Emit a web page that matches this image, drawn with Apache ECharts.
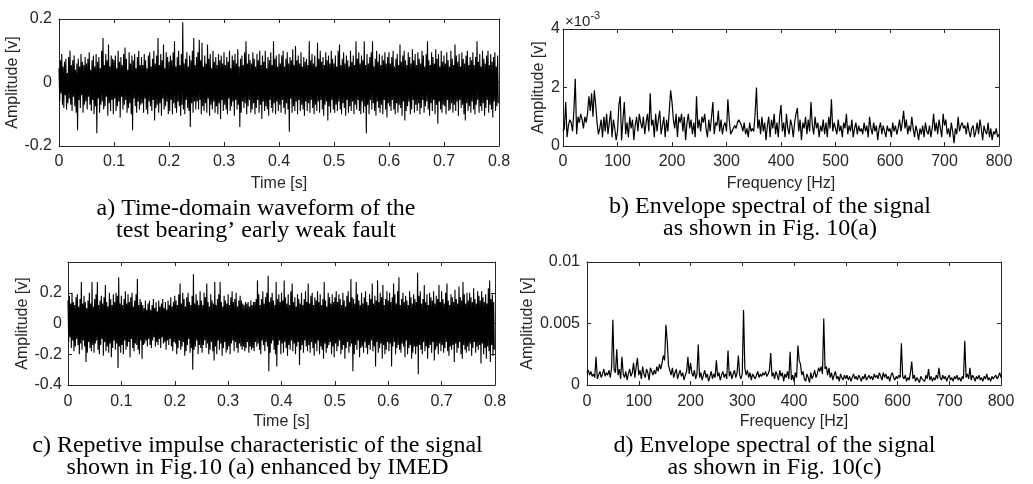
<!DOCTYPE html>
<html>
<head>
<meta charset="utf-8">
<script src="https://cdn.jsdelivr.net/npm/echarts@6/dist/echarts.min.js"></script>
<style>
html,body{margin:0;padding:0;background:#fff;}
#chart{width:1033px;height:484px;}
</style>
</head>
<body>
<div id="chart"></div>
<script>
// ---------------- DATA ----------------
// a) time-domain waveform, millivolts, one sample every 1.25 ms (0 .. 0.79875 s)
const waveA_mV = [
 45,-60,70,-35,90,-70,50,-80,65,-40,75,-85,30,-65,80,-50,100,-70,55,-90,70,-45,85,-75,40,-95,60,-150,75,-55,50,-80,90,-40,65,-95,55,-70,80,-60,
 60,-85,75,-45,95,-70,40,-90,70,-55,85,-100,50,-75,90,-160,65,-50,80,-95,45,-70,100,-60,140,-85,55,-75,90,-45,70,-105,120,-65,50,-90,85,-55,75,-100,
 70,-50,85,-90,45,-75,100,-60,65,-110,80,-45,55,-85,90,-70,110,-55,75,-95,40,-80,95,-65,60,-100,85,-150,70,-50,90,-75,45,-95,80,-60,100,-85,55,-70,
 80,-65,55,-95,90,-50,70,-85,45,-100,85,-60,95,-75,50,-90,75,-55,100,-120,60,-80,85,-70,140,-95,55,-65,90,-105,70,-50,120,-85,45,-75,95,-60,80,-100,
 65,-90,85,-55,70,-100,95,-65,130,-80,50,-95,80,-60,100,-75,55,-105,90,-70,190,-85,60,-100,75,-55,95,-80,50,-90,85,-140,70,-65,100,-95,140,-60,55,-85,
 80,-60,95,-85,135,-55,70,-100,125,-75,50,-90,85,-65,60,-95,120,-50,75,-105,90,-70,45,-85,100,-60,65,-95,80,-75,55,-100,90,-65,70,-115,85,-55,60,-90,
 95,-70,55,-85,80,-100,65,-50,100,-90,45,-75,85,-60,70,-105,90,-55,60,-85,105,-70,50,-140,75,-95,85,-60,55,-80,95,-65,130,-100,60,-75,90,-55,70,-95,
 60,-85,95,-65,75,-100,50,-80,90,-55,70,-95,100,-70,55,-115,85,-60,65,-90,100,-75,45,-85,80,-105,70,-55,95,-80,55,-95,130,-65,75,-100,85,-60,50,-90,
 90,-70,60,-95,85,-55,100,-80,50,-100,75,-65,95,-85,60,-155,80,-50,70,-95,105,-75,55,-90,115,-60,70,-100,85,-55,60,-90,95,-70,50,-85,80,-105,65,-60,
 75,-90,55,-65,130,-95,70,-55,90,-80,60,-100,85,-70,50,-90,125,-60,75,-95,100,-55,65,-85,80,-105,55,-70,95,-60,70,-120,85,-75,60,-95,100,-55,75,-85,
 60,-95,85,-70,50,-90,100,-60,120,-85,55,-100,75,-65,95,-80,60,-105,85,-55,70,-95,50,-75,100,-90,65,-60,85,-100,55,-70,130,-85,75,-55,95,-90,60,-100,
 85,-60,70,-95,130,-75,55,-160,90,-70,60,-100,80,-55,95,-85,130,-65,50,-90,75,-105,100,-60,65,-80,90,-95,55,-70,85,-100,70,-55,95,-85,60,-110,80,-65,
 95,-75,60,-90,80,-55,100,-85,50,-100,75,-65,90,-95,55,-70,120,-80,65,-105,85,-60,100,-120,70,-90,55,-75,95,-60,80,-100,60,-85,105,-55,70,-95,90,-70,
 55,-90,95,-65,75,-100,60,-80,100,-55,85,-95,50,-75,90,-60,130,-85,70,-105,55,-65,95,-90,80,-55,60,-100,105,-70,75,-130,90,-60,50,-85,100,-95,65,-70,
 85,-75,60,-100,95,-55,70,-90,50,-85,100,-65,75,-95,55,-70,120,-90,85,-60,65,-105,90,-55,50,-80,95,-70,75,-100,60,-120,85,-65,100,-90,55,-75,80,-95,
 70,-60,95,-85,55,-100,80,-70,130,-55,65,-95,90,-75,50,-90,100,-65,75,-105,60,-80,85,-55,100,-95,55,-70,90,-85,65,-110,80,-60,95,-90,50,-75,85,-65
];
// c) IMED-enhanced waveform, millivolts, one sample every 1.25 ms
const waveC_mV = [
 150,-120,180,-90,130,-160,200,-110,140,-180,120,-150,170,-100,190,-140,110,-200,160,-130,270,-170,130,-110,180,-150,140,-250,100,-190,150,-120,200,-160,130,-180,270,-140,110,-190,
 160,-130,190,-110,270,-170,120,-200,150,-140,180,-100,130,-210,170,-120,250,-180,140,-150,110,-190,200,-130,160,-220,120,-160,190,-110,140,-170,200,-130,180,-290,300,-150,130,-190,
 180,-140,120,-200,160,-110,210,-170,130,-150,190,-120,140,-220,170,-100,200,-160,110,-180,150,-130,190,-140,290,-170,120,-200,160,-110,140,-230,120,-140,100,-130,150,-110,90,-150,
 130,-100,150,-140,90,-160,120,-110,160,-90,100,-150,140,-120,80,-140,150,-100,110,-160,130,-90,160,-130,100,-120,140,-170,90,-110,150,-140,120,-100,170,-150,110,-180,140,-120,
 180,-130,150,-200,120,-160,190,-110,260,-170,130,-150,200,-120,160,-210,110,-180,170,-140,200,-100,140,-190,120,-160,180,-300,320,-170,130,-150,190,-110,150,-200,120,-140,210,-160,
 150,-190,120,-140,200,-110,170,-160,260,-130,140,-200,110,-170,190,-120,150,-180,130,-240,270,-150,120,-200,160,-110,190,-170,270,-130,140,-210,110,-160,180,-120,150,-190,130,-170,
 190,-150,120,-200,170,-130,210,-110,140,-180,160,-120,200,-160,110,-190,150,-130,180,-150,150,-170,130,-150,120,-180,140,-160,130,-120,140,-190,110,-150,150,-170,120,-160,140,-180,
 140,-120,160,-150,280,-130,190,-170,120,-200,160,-110,210,-140,130,-180,170,-120,200,-150,310,-310,140,-190,170,-130,200,-110,150,-170,120,-200,270,-280,160,-140,190,-110,140,-200,
 200,-130,150,-190,280,-120,170,-160,130,-210,190,-140,120,-170,210,-110,260,-180,140,-130,170,-200,110,-150,190,-120,160,-270,130,-170,200,-140,120,-190,160,-110,210,-150,140,-180,
 260,-140,130,-190,180,-120,200,-160,120,-210,170,-130,150,-180,210,-110,140,-200,190,-150,120,-170,160,-230,270,-130,150,-190,110,-160,200,-140,170,-120,130,-200,190,-150,140,-220,
 170,-130,210,-180,140,-150,190,-110,160,-200,120,-170,200,-140,150,-230,110,-160,180,-120,210,-190,140,-150,290,-130,170,-310,160,-200,130,-140,270,-170,190,-110,150,-220,120,-160,
 200,-150,130,-190,170,-120,210,-160,140,-200,120,-140,190,-170,160,-110,260,-180,130,-150,180,-280,150,-120,280,-190,140,-160,200,-130,170,-230,250,-140,120,-200,160,-170,210,-120,
 150,-180,200,-130,140,-280,170,-150,260,-120,190,-200,130,-160,210,-140,300,-170,120,-190,160,-130,200,-150,140,-220,180,-110,150,-200,120,-160,210,-140,170,-230,130,-190,190,-150,
 160,-200,140,-150,330,-330,180,-140,210,-170,130,-200,160,-120,250,-180,140,-150,190,-230,120,-160,200,-140,170,-190,150,-120,210,-240,130,-170,180,-150,160,-200,250,-130,140,-180,
 210,-140,160,-190,130,-160,200,-120,260,-180,150,-210,120,-150,190,-170,170,-140,140,-250,220,-130,160,-190,130,-160,240,-120,170,-200,150,-230,270,-140,190,-170,130,-190,200,-150,
 150,-180,200,-130,170,-210,140,-160,230,-120,160,-190,130,-150,210,-170,180,-140,150,-260,210,-130,170,-200,140,-160,190,-230,130,-150,230,-180,280,-250,160,-140,190,-210,140,-170
];
// b) envelope spectrum of (a), units of 1e-4 V, one bin every 2.5 Hz (0 .. 800 Hz)
const specB_1e4 = [
 5,6,15,3,7,9,8,5,12,23,4,10,8,11,9,6,10,8,11,17,
 12,18,10,19,14,8,4,6,9,3,10,5,11,4,8,12,3,9,6,2,
 5,14,17,2,9,15,4,8,3,10,6,9,2,7,10,5,11,8,6,10,
 4,8,11,5,18,7,9,3,11,5,9,12,4,7,10,3,9,5,12,19,
 15,9,6,11,3,10,8,11,5,10,2,8,11,6,9,4,8,3,17,6,
 9,5,10,8,11,6,3,9,5,10,15,4,8,7,12,5,9,4,7,8,
 5,16,9,4,5,6,7,6,8,9,9,7,5,8,4,6,3,8,5,6,
 5,11,20,6,9,4,10,5,8,2,7,10,3,9,6,11,4,8,3,10,
 14,5,8,3,11,6,4,9,7,3,8,11,13,5,9,2,8,6,10,4,
 9,5,15,7,4,10,6,8,3,7,5,9,4,8,3,10,6,16,5,8,
 6,4,9,5,7,3,8,6,11,4,7,5,9,3,6,8,4,7,5,6,
 4,8,5,7,3,10,6,4,8,5,7,2,6,8,4,7,5,3,7,5,
 6,3,8,5,7,4,6,9,5,8,12,6,9,4,7,5,10,6,3,7,
 5,2,6,4,7,3,8,5,4,7,3,6,11,5,8,4,9,6,3,11,
 7,9,4,6,3,8,5,1,6,4,10,5,7,8,6,7,4,8,5,3,
 6,7,3,5,8,4,9,6,2,7,5,4,8,3,6,2,5,4,6,3,
 4
];
// d) envelope spectrum of (c), units of 1e-4 V, one bin every 2.5 Hz (0 .. 800 Hz)
const specD_1e4 = [
 10,12,8,11,7,9,6,23,5,8,11,6,9,13,7,10,8,12,6,14,
 53,12,10,29,8,13,5,23,9,6,11,4,9,13,7,10,18,6,15,22,
 8,12,5,15,9,6,13,10,4,14,11,8,12,9,15,11,17,13,18,24,
 20,49,36,16,12,8,14,6,10,13,5,9,12,7,10,4,8,11,23,9,
 18,10,7,12,5,9,33,6,10,4,8,12,6,9,3,7,11,5,9,6,
 20,7,10,4,8,11,6,9,5,28,7,11,5,9,12,6,10,24,8,5,
 9,61,14,8,12,6,10,4,9,7,5,8,11,6,9,7,10,8,11,7,
 9,12,26,7,10,5,11,8,4,12,7,10,3,9,6,11,5,27,4,8,
 3,10,6,32,20,17,8,11,5,3,9,6,2,10,5,8,12,6,9,14,
 11,15,9,54,13,15,8,14,6,10,4,8,11,5,7,3,9,6,4,8,
 5,8,4,7,3,6,9,5,7,4,8,6,3,7,5,9,4,6,8,5,
 7,4,9,6,8,5,10,7,4,10,6,9,5,7,3,8,10,6,4,7,
 5,8,6,34,7,5,8,3,6,4,10,19,5,8,3,6,4,2,7,5,
 6,3,8,5,13,4,7,3,6,4,8,5,14,6,4,8,5,7,3,6,
 8,4,6,3,7,5,8,4,6,3,7,5,36,6,9,5,14,4,8,6,
 3,7,5,8,4,6,3,7,5,9,4,6,3,7,5,4,8,5,7,10,
 6
];
const timeStep_s = 0.00125;  // sample spacing of the waveforms
const freqStep_Hz = 2.5;     // bin spacing of the spectra
const captions = {
  a: ['a) Time-domain waveform of the', 'test bearing\u2019 early weak fault'],
  b: ['b) Envelope spectral of the signal', 'as shown in Fig. 10(a)'],
  c: ['c) Repetive impulse characteristic of the signal', 'shown in Fig.10 (a) enhanced by IMED'],
  d: ['d) Envelope spectral of the signal', 'as shown in Fig. 10(c)']
};

// ---------------- BUILD ----------------
const pairs = (vals, step, scale) => vals.map((v, i) => [i * step, v * scale]);
const AX = '#262626';
const SANS = '"Liberation Sans", Arial, sans-serif';
const SERIF = '"Liberation Serif", "Times New Roman", serif';

const grids = [
  {left: 59,  top: 19,  width: 440, height: 127},
  {left: 563, top: 29,  width: 436, height: 117},
  {left: 68,  top: 262, width: 427, height: 123},
  {left: 587, top: 262, width: 414, height: 123}
];

function xAx(gi, min, max, interval, name, gap, margin) {
  return [{
    gridIndex: gi, type: 'value', position: 'bottom', min, max, interval,
    name, nameLocation: 'middle', nameGap: gap,
    nameTextStyle: {fontFamily: SANS, fontSize: 16, color: AX},
    axisLine: {show: true, onZero: false, lineStyle: {color: AX, width: 1}},
    axisTick: {show: true, inside: true, length: 4, lineStyle: {color: AX}},
    axisLabel: {show: true, margin, fontFamily: SANS, fontSize: 16, color: AX},
    splitLine: {show: false}
  }, {
    gridIndex: gi, type: 'value', position: 'top', min, max, interval,
    axisLine: {show: true, onZero: false, lineStyle: {color: AX, width: 1}},
    axisTick: {show: true, inside: true, length: 4, lineStyle: {color: AX}},
    axisLabel: {show: false}, splitLine: {show: false}
  }];
}
function yAx(gi, min, max, interval, gap, margin, showMax) {
  return [{
    gridIndex: gi, type: 'value', position: 'left', min, max, interval,
    name: 'Amplitude [v]', nameLocation: 'middle', nameGap: gap, nameRotate: 90,
    nameTextStyle: {fontFamily: SANS, fontSize: 16, color: AX},
    axisLine: {show: true, onZero: false, lineStyle: {color: AX, width: 1}},
    axisTick: {show: true, inside: true, length: 4, lineStyle: {color: AX}},
    axisLabel: {show: true, margin, fontFamily: SANS, fontSize: 16, color: AX,
                showMaxLabel: showMax},
    splitLine: {show: false}
  }, {
    gridIndex: gi, type: 'value', position: 'right', min, max, interval,
    axisLine: {show: true, onZero: false, lineStyle: {color: AX, width: 1}},
    axisTick: {show: true, inside: true, length: 4, lineStyle: {color: AX}},
    axisLabel: {show: false}, splitLine: {show: false}
  }];
}

const xAxes = [].concat(
  xAx(0, 0, 0.8, 0.1, 'Time [s]', 30, 8),
  xAx(1, 0, 800, 100, 'Frequency [Hz]', 30, 8),
  xAx(2, 0, 0.8, 0.1, 'Time [s]', 29, 9),
  xAx(3, 0, 800, 100, 'Frequency [Hz]', 29, 9)
);
const yAxes = [].concat(
  yAx(0, -0.2, 0.2, 0.2, 35, 7, true),
  yAx(1, 0, 4, 2, 16, 3, true),
  yAx(2, -0.4, 0.4, 0.2, 34, 6, false),
  yAx(3, 0, 0.01, 0.005, 44, 7, true)
);

function ser(gi, data, w) {
  return {
    type: 'line', xAxisIndex: gi * 2, yAxisIndex: gi * 2, data,
    showSymbol: false, symbol: 'none', animation: false, sampling: null,
    lineStyle: {color: '#000', width: w}, z: 2
  };
}

const capItems = [];
function cap(cx, y1, y2, lines) {
  [y1, y2].forEach((y, k) => capItems.push({
    type: 'text', x: cx, y: y,
    style: {text: lines[k], font: '24px ' + SERIF, fill: '#000',
            textAlign: 'center', textVerticalAlign: 'middle'}
  }));
}
cap(256, 209, 231, captions.a);
cap(770, 207, 229, captions.b);
cap(257.5, 446, 468, captions.c);
cap(774.5, 446, 468, captions.d);
capItems.push({
  type: 'text', x: 565, y: 20,
  style: {
    text: '{m|\u00d710}{s|-3}',
    rich: {m: {fontFamily: SANS, fontSize: 15, fill: AX, verticalAlign: 'bottom'},
           s: {fontFamily: SANS, fontSize: 11, fill: AX, verticalAlign: 'top', padding: [0, 0, 8, 0]}},
    textVerticalAlign: 'middle'
  }
});

const chart = echarts.init(document.getElementById('chart'), null, {renderer: 'canvas'});
chart.setOption({
  animation: false,
  backgroundColor: '#fff',
  grid: grids.map(g => Object.assign({containLabel: false, show: false}, g)),
  xAxis: xAxes,
  yAxis: yAxes,
  series: [
    ser(0, pairs(waveA_mV, timeStep_s, 0.001), 1.1),
    ser(1, pairs(specB_1e4, freqStep_Hz, 0.1), 1.2),
    ser(2, pairs(waveC_mV, timeStep_s, 0.001), 1.1),
    ser(3, pairs(specD_1e4, freqStep_Hz, 0.0001), 1.2)
  ],
  graphic: capItems
});
</script>
</body>
</html>
